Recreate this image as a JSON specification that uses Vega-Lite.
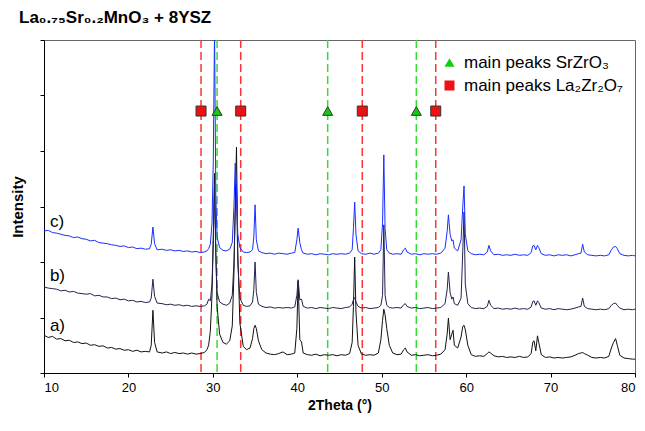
{
 "$schema": "https://vega.github.io/schema/vega-lite/v6.json",
 "width": 591, "height": 333, "autosize": "none",
 "padding": {"left": 44, "top": 40, "right": 10, "bottom": 58},
 "background": "white",
 "title": {"text": "La₀.₇₅Sr₀.₂MnO₃ + 8YSZ", "anchor": "start", "frame": "group", "dx": -25, "offset": 12, "fontSize": 17, "fontWeight": "bold", "font": "Liberation Sans", "color": "black"},
 "config": {
  "view": {"stroke": "#666666", "strokeWidth": 1},
  "axis": {"labelFont": "Liberation Sans", "titleFont": "Liberation Sans", "domainColor": "black", "tickColor": "black", "labelColor": "black", "titleColor": "black", "grid": false, "tickSize": 4},
  "axisX": {"labelFontSize": 13, "titleFontSize": 14, "titleFontWeight": "bold", "labelPadding": 4, "titlePadding": 4, "tickCount": 7},
  "axisY": {"labels": false, "titleFontSize": 15, "titleFontWeight": "bold", "titlePadding": 14, "tickCount": 6}
 },
 "datasets": {
  "peaks": [
   {"pos": 30.5, "phase": "main peaks SrZrO₃", "k": "Sr", "h": 4.72},
   {"pos": 43.6, "phase": "main peaks SrZrO₃", "k": "Sr", "h": 4.72},
   {"pos": 54.1, "phase": "main peaks SrZrO₃", "k": "Sr", "h": 4.72},
   {"pos": 28.6, "phase": "main peaks La₂Zr₂O₇", "k": "La", "h": 4.72},
   {"pos": 33.3, "phase": "main peaks La₂Zr₂O₇", "k": "La", "h": 4.72},
   {"pos": 47.7, "phase": "main peaks La₂Zr₂O₇", "k": "La", "h": 4.72},
   {"pos": 56.4, "phase": "main peaks La₂Zr₂O₇", "k": "La", "h": 4.72}
  ],
  "labels": [
   {"x": 10.7, "y": 2.72, "t": "c)"},
   {"x": 10.7, "y": 1.75, "t": "b)"},
   {"x": 10.7, "y": 0.85, "t": "a)"}
  ],
  "xrd": [
   {"x":10,"a":0.68,"b":1.55,"c":2.56},{"x":10.5,"a":0.64,"b":1.53,"c":2.57},{"x":11,"a":0.66,"b":1.52,"c":2.53},{"x":11.5,"a":0.61,"b":1.51,"c":2.52},
   {"x":12,"a":0.62,"b":1.48,"c":2.5},{"x":12.5,"a":0.58,"b":1.49,"c":2.48},{"x":13,"a":0.59,"b":1.46,"c":2.47},{"x":13.5,"a":0.55,"b":1.47,"c":2.44},
   {"x":14,"a":0.56,"b":1.44,"c":2.45},{"x":14.5,"a":0.53,"b":1.43,"c":2.42},{"x":15,"a":0.54,"b":1.42,"c":2.41},{"x":15.5,"a":0.5,"b":1.43,"c":2.38},
   {"x":16,"a":0.51,"b":1.39,"c":2.39},{"x":16.5,"a":0.48,"b":1.4,"c":2.35},{"x":17,"a":0.49,"b":1.37,"c":2.34},{"x":17.5,"a":0.45,"b":1.37,"c":2.33},
   {"x":18,"a":0.46,"b":1.34,"c":2.31},{"x":18.5,"a":0.43,"b":1.35,"c":2.3},{"x":19,"a":0.44,"b":1.32,"c":2.28},{"x":19.5,"a":0.41,"b":1.33,"c":2.29},
   {"x":20,"a":0.42,"b":1.3,"c":2.26},{"x":20.5,"a":0.39,"b":1.31,"c":2.27},{"x":21,"a":0.41,"b":1.28,"c":2.24},{"x":21.5,"a":0.38,"b":1.29,"c":2.25},
   {"x":22,"a":0.39,"b":1.27,"c":2.23},{"x":22.5,"a":0.38,"b":1.28,"c":2.24},{"x":22.7,"a":0.5,"b":1.35,"c":2.32},{"x":22.9,"a":1.13,"b":1.69,"c":2.63},
   {"x":23.1,"a":0.55,"b":1.38,"c":2.33},{"x":23.4,"a":0.38,"b":1.26,"c":2.22},{"x":24,"a":0.36,"b":1.25,"c":2.23},{"x":24.5,"a":0.38,"b":1.23,"c":2.21},
   {"x":25,"a":0.35,"b":1.24,"c":2.22},{"x":25.5,"a":0.37,"b":1.22,"c":2.2},{"x":26,"a":0.35,"b":1.23,"c":2.21},{"x":26.5,"a":0.36,"b":1.21,"c":2.19},
   {"x":27,"a":0.34,"b":1.22,"c":2.2},{"x":27.5,"a":0.36,"b":1.2,"c":2.18},{"x":28,"a":0.34,"b":1.21,"c":2.19},{"x":28.5,"a":0.35,"b":1.2,"c":2.17},
   {"x":29,"a":0.37,"b":1.21,"c":2.18},{"x":29.3,"a":0.42,"b":1.24,"c":2.2},{"x":29.5,"a":0.5,"b":1.33,"c":2.24},{"x":29.7,"a":0.75,"b":1.3,"c":2.32},
   {"x":29.9,"a":1.4,"b":1.6,"c":2.7},{"x":30.05,"a":2.4,"b":2.4,"c":3.8},{"x":30.2,"a":3.6,"b":3.4,"c":6.2},{"x":30.35,"a":2.2,"b":2.1,"c":3.2},
   {"x":30.5,"a":1.2,"b":1.45,"c":2.45},{"x":30.8,"a":0.7,"b":1.28,"c":2.26},{"x":31.2,"a":0.55,"b":1.24,"c":2.21},{"x":31.6,"a":0.52,"b":1.22,"c":2.2},
   {"x":32,"a":0.58,"b":1.26,"c":2.23},{"x":32.3,"a":0.85,"b":1.4,"c":2.35},{"x":32.5,"a":1.8,"b":2,"c":3},{"x":32.65,"a":3,"b":2.9,"c":3.78},
   {"x":32.8,"a":4.07,"b":3.4,"c":3.3},{"x":32.95,"a":2.2,"b":2,"c":2.5},{"x":33.2,"a":0.9,"b":1.35,"c":2.26},{"x":33.6,"a":0.48,"b":1.22,"c":2.18},
   {"x":34,"a":0.42,"b":1.2,"c":2.17},{"x":34.4,"a":0.45,"b":1.21,"c":2.18},{"x":34.7,"a":0.62,"b":1.28,"c":2.22},{"x":34.85,"a":0.8,"b":1.5,"c":2.45},
   {"x":35,"a":0.86,"b":2,"c":3.03},{"x":35.15,"a":0.8,"b":1.45,"c":2.4},{"x":35.4,"a":0.58,"b":1.24,"c":2.2},{"x":35.8,"a":0.42,"b":1.2,"c":2.17},
   {"x":36.3,"a":0.36,"b":1.18,"c":2.15},{"x":36.8,"a":0.34,"b":1.19,"c":2.16},{"x":37.3,"a":0.33,"b":1.17,"c":2.14},{"x":37.8,"a":0.35,"b":1.18,"c":2.16},
   {"x":38.3,"a":0.38,"b":1.17,"c":2.15},{"x":38.8,"a":0.33,"b":1.18,"c":2.14},{"x":39.3,"a":0.34,"b":1.17,"c":2.16},{"x":39.7,"a":0.36,"b":1.19,"c":2.17},
   {"x":39.95,"a":0.8,"b":1.4,"c":2.4},{"x":40.1,"a":1.66,"b":1.68,"c":2.61},{"x":40.3,"a":0.6,"b":1.32,"c":2.35},{"x":40.5,"a":0.56,"b":1.33,"c":2.22},
   {"x":40.7,"a":0.36,"b":1.2,"c":2.16},{"x":41.2,"a":0.33,"b":1.17,"c":2.14},{"x":41.7,"a":0.32,"b":1.18,"c":2.15},{"x":42.2,"a":0.34,"b":1.16,"c":2.13},
   {"x":42.7,"a":0.31,"b":1.18,"c":2.15},{"x":43.2,"a":0.33,"b":1.17,"c":2.14},{"x":43.7,"a":0.32,"b":1.16,"c":2.13},{"x":44.2,"a":0.33,"b":1.18,"c":2.15},
   {"x":44.7,"a":0.31,"b":1.17,"c":2.14},{"x":45.2,"a":0.33,"b":1.16,"c":2.15},{"x":45.7,"a":0.32,"b":1.18,"c":2.14},{"x":46.2,"a":0.35,"b":1.19,"c":2.16},
   {"x":46.5,"a":0.55,"b":1.24,"c":2.22},{"x":46.65,"a":1.2,"b":1.32,"c":2.6},{"x":46.8,"a":2.09,"b":1.36,"c":3.08},{"x":46.95,"a":1.1,"b":1.28,"c":2.5},
   {"x":47.2,"a":0.5,"b":1.2,"c":2.2},{"x":47.6,"a":0.34,"b":1.17,"c":2.15},{"x":48.1,"a":0.32,"b":1.18,"c":2.14},{"x":48.6,"a":0.33,"b":1.16,"c":2.16},
   {"x":49.1,"a":0.32,"b":1.17,"c":2.14},{"x":49.6,"a":0.36,"b":1.18,"c":2.16},{"x":49.9,"a":0.6,"b":1.22,"c":2.22},{"x":50.1,"a":0.95,"b":1.4,"c":2.7},
   {"x":50.25,"a":1.15,"b":2.67,"c":3.93},{"x":50.4,"a":1.05,"b":1.4,"c":2.6},{"x":50.6,"a":0.8,"b":1.22,"c":2.22},{"x":50.9,"a":0.5,"b":1.18,"c":2.16},
   {"x":51.3,"a":0.36,"b":1.17,"c":2.14},{"x":51.8,"a":0.33,"b":1.18,"c":2.15},{"x":52.3,"a":0.34,"b":1.17,"c":2.14},{"x":52.6,"a":0.42,"b":1.23,"c":2.22},
   {"x":52.8,"a":0.45,"b":1.25,"c":2.25},{"x":53,"a":0.38,"b":1.2,"c":2.18},{"x":53.5,"a":0.32,"b":1.17,"c":2.14},{"x":54,"a":0.33,"b":1.18,"c":2.15},
   {"x":54.5,"a":0.31,"b":1.16,"c":2.13},{"x":55,"a":0.32,"b":1.17,"c":2.15},{"x":55.5,"a":0.33,"b":1.18,"c":2.14},{"x":56,"a":0.31,"b":1.16,"c":2.15},
   {"x":56.5,"a":0.32,"b":1.17,"c":2.14},{"x":57,"a":0.34,"b":1.18,"c":2.16},{"x":57.5,"a":0.42,"b":1.25,"c":2.25},{"x":57.75,"a":0.7,"b":1.5,"c":2.55},
   {"x":57.9,"a":0.99,"b":1.82,"c":2.85},{"x":58.1,"a":0.6,"b":1.45,"c":2.5},{"x":58.3,"a":0.7,"b":1.33,"c":2.38},{"x":58.45,"a":0.77,"b":1.37,"c":2.4},
   {"x":58.6,"a":0.5,"b":1.25,"c":2.25},{"x":59,"a":0.45,"b":1.22,"c":2.2},{"x":59.4,"a":0.65,"b":1.35,"c":2.4},{"x":59.6,"a":0.84,"b":2.2,"c":3},
   {"x":59.75,"a":0.86,"b":2.9,"c":3.37},{"x":59.9,"a":0.78,"b":1.6,"c":2.5},{"x":60.2,"a":0.5,"b":1.25,"c":2.2},{"x":60.6,"a":0.33,"b":1.18,"c":2.15},
   {"x":61.1,"a":0.3,"b":1.16,"c":2.13},{"x":61.6,"a":0.31,"b":1.17,"c":2.14},{"x":62.1,"a":0.3,"b":1.16,"c":2.13},{"x":62.5,"a":0.35,"b":1.2,"c":2.18},
   {"x":62.7,"a":0.38,"b":1.31,"c":2.3},{"x":62.9,"a":0.36,"b":1.22,"c":2.2},{"x":63.3,"a":0.31,"b":1.16,"c":2.13},{"x":63.8,"a":0.29,"b":1.17,"c":2.14},
   {"x":64.3,"a":0.3,"b":1.15,"c":2.12},{"x":64.8,"a":0.28,"b":1.16,"c":2.13},{"x":65.3,"a":0.29,"b":1.15,"c":2.12},{"x":65.8,"a":0.28,"b":1.17,"c":2.14},
   {"x":66.3,"a":0.3,"b":1.15,"c":2.12},{"x":66.8,"a":0.28,"b":1.16,"c":2.13},{"x":67.3,"a":0.29,"b":1.15,"c":2.12},{"x":67.7,"a":0.35,"b":1.19,"c":2.17},
   {"x":67.9,"a":0.56,"b":1.29,"c":2.29},{"x":68.05,"a":0.58,"b":1.3,"c":2.3},{"x":68.25,"a":0.4,"b":1.22,"c":2.22},{"x":68.45,"a":0.67,"b":1.3,"c":2.3},
   {"x":68.6,"a":0.55,"b":1.27,"c":2.26},{"x":68.9,"a":0.33,"b":1.17,"c":2.15},{"x":69.4,"a":0.28,"b":1.15,"c":2.12},{"x":69.9,"a":0.29,"b":1.16,"c":2.13},
   {"x":70.4,"a":0.27,"b":1.14,"c":2.11},{"x":70.9,"a":0.28,"b":1.16,"c":2.13},{"x":71.4,"a":0.27,"b":1.15,"c":2.12},{"x":71.9,"a":0.28,"b":1.14,"c":2.13},
   {"x":72.4,"a":0.29,"b":1.15,"c":2.11},{"x":72.9,"a":0.32,"b":1.17,"c":2.13},{"x":73.3,"a":0.35,"b":1.19,"c":2.15},{"x":73.6,"a":0.36,"b":1.2,"c":2.16},
   {"x":73.8,"a":0.37,"b":1.35,"c":2.32},{"x":74,"a":0.35,"b":1.2,"c":2.18},{"x":74.4,"a":0.32,"b":1.16,"c":2.13},{"x":74.9,"a":0.28,"b":1.15,"c":2.12},
   {"x":75.4,"a":0.27,"b":1.14,"c":2.11},{"x":75.9,"a":0.28,"b":1.15,"c":2.12},{"x":76.4,"a":0.27,"b":1.14,"c":2.11},{"x":76.9,"a":0.3,"b":1.16,"c":2.13},
   {"x":77.2,"a":0.45,"b":1.22,"c":2.22},{"x":77.45,"a":0.55,"b":1.25,"c":2.27},{"x":77.7,"a":0.62,"b":1.26,"c":2.28},{"x":77.9,"a":0.5,"b":1.22,"c":2.24},
   {"x":78.2,"a":0.32,"b":1.17,"c":2.15},{"x":78.7,"a":0.27,"b":1.14,"c":2.12},{"x":79.2,"a":0.26,"b":1.15,"c":2.11},{"x":79.7,"a":0.25,"b":1.14,"c":2.12},
   {"x":80,"a":0.25,"b":1.15,"c":2.11}
  ]
 },
 "layer": [
  {
   "data": {"name": "peaks"},
   "mark": {"type": "rule", "strokeDash": [8, 4], "strokeWidth": 1.5},
   "encoding": {
    "x": {"field": "pos", "type": "quantitative", "scale": {"domain": [10, 80], "nice": false}, "title": "2Theta (°)"},
    "color": {"field": "k", "type": "nominal", "scale": {"domain": ["Sr", "La"], "range": ["#33dd33", "#ff3333"]}, "legend": null}
   }
  },
  {
   "data": {"name": "xrd"},
   "transform": [{"fold": ["a", "b", "c"], "as": ["s", "v"]}],
   "mark": {"type": "line", "strokeWidth": 1, "clip": true},
   "encoding": {
    "x": {"field": "x", "type": "quantitative", "scale": {"domain": [10, 80], "nice": false}, "title": "2Theta (°)"},
    "y": {"field": "v", "type": "quantitative", "scale": {"domain": [0, 6], "nice": false}, "title": "Intensity"},
    "stroke": {"field": "s", "type": "nominal", "scale": {"domain": ["a", "b", "c"], "range": ["#111111", "#23234f", "#1a2eff"]}, "legend": null}
   }
  },
  {
   "data": {"name": "peaks"},
   "mark": {"type": "point", "filled": true, "stroke": "#333333", "strokeWidth": 1, "size": 100, "opacity": 1},
   "encoding": {
    "x": {"field": "pos", "type": "quantitative", "scale": {"domain": [10, 80], "nice": false}, "title": "2Theta (°)"},
    "y": {"field": "h", "type": "quantitative", "scale": {"domain": [0, 6], "nice": false}, "title": "Intensity"},
    "fill": {"field": "phase", "type": "nominal", "scale": {"domain": ["main peaks SrZrO₃", "main peaks La₂Zr₂O₇"], "range": ["#11cc11", "#ee1111"]},
      "legend": {"title": null, "orient": "none", "legendX": 397, "legendY": 14, "labelFontSize": 17, "labelFont": "Liberation Sans", "labelColor": "black", "symbolStrokeColor": "#333333", "symbolStrokeWidth": 1, "rowPadding": 5, "padding": 0, "labelOffset": 6, "symbolSize": 100}},
    "shape": {"field": "phase", "type": "nominal", "scale": {"domain": ["main peaks SrZrO₃", "main peaks La₂Zr₂O₇"], "range": ["triangle-up", "square"]},
      "legend": {"title": null, "orient": "none", "legendX": 397, "legendY": 14, "labelFontSize": 17, "labelFont": "Liberation Sans", "labelColor": "black", "symbolStrokeColor": "#333333", "symbolStrokeWidth": 1, "rowPadding": 5, "padding": 0, "labelOffset": 6, "symbolSize": 100}}
   }
  },
  {
   "data": {"name": "labels"},
   "mark": {"type": "text", "align": "left", "baseline": "middle", "fontSize": 17, "font": "Liberation Sans", "color": "black"},
   "encoding": {
    "x": {"field": "x", "type": "quantitative", "scale": {"domain": [10, 80], "nice": false}, "title": "2Theta (°)"},
    "y": {"field": "y", "type": "quantitative", "scale": {"domain": [0, 6], "nice": false}, "title": "Intensity"},
    "text": {"field": "t"}
   }
  }
 ]
}
